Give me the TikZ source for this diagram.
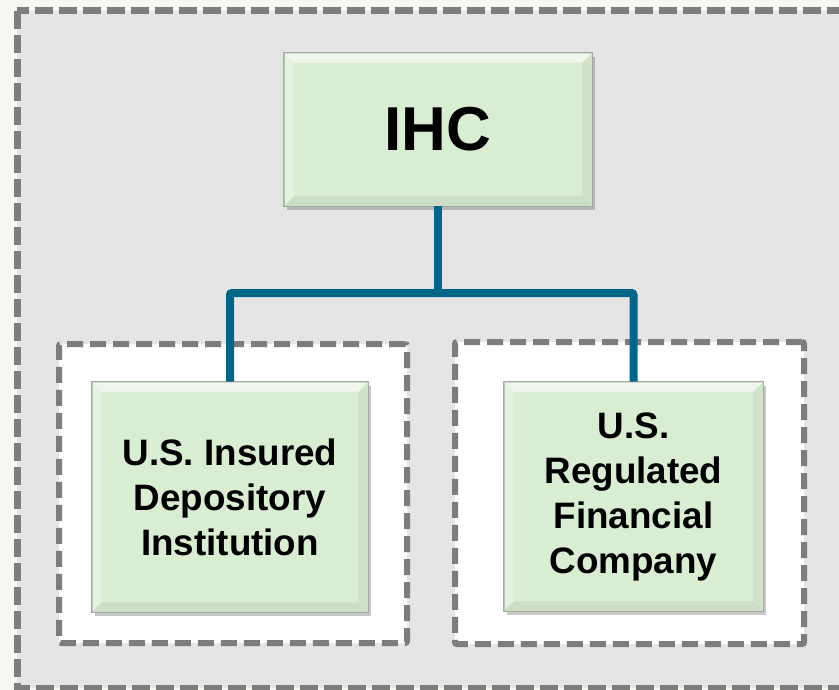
\documentclass[tikz,border=0pt]{standalone}
\usepackage{fontspec}
\setmainfont{Liberation Sans}
\usetikzlibrary{calc,shadows}
\definecolor{pagebg}{RGB}{245,248,240}
\definecolor{panelgray}{RGB}{229,229,229}
\definecolor{dashgray}{RGB}{125,125,125}
\definecolor{boxgreen}{RGB}{217,237,211}
\definecolor{boxedge}{RGB}{160,172,158}
\definecolor{teal}{RGB}{0,102,136}
\tikzset{
  panel/.style={fill=panelgray, draw=dashgray, line width=7pt, dash pattern=on 18pt off 6pt},
  group/.style={fill=white, draw=dashgray, line width=6pt, dash pattern=on 16pt off 7pt, rounded corners=2pt, inner sep=0pt},
  entity/.style={fill=boxgreen, draw=boxedge, line width=0.8pt, inner sep=0pt, align=center,
    font=\bfseries\fontsize{36.8}{45}\selectfont,
    drop shadow={shadow xshift=3pt, shadow yshift=-4pt, opacity=0.3, fill=black!70}},
  conn/.style={draw=teal, line width=8pt, rounded corners=2pt},
}
\begin{document}
\begin{tikzpicture}[x=1pt,y=-1pt]
\useasboundingbox (0,0) rectangle (839,690);
\clip (0,0) rectangle (839,690);
\fill[pagebg] (0,0) rectangle (839,690);
\draw[panel] (17,11) rectangle (870,688);

\node[group, minimum width=348pt, minimum height=299pt] (gl) at (233,493.5) {};
\node[group, minimum width=349pt, minimum height=302pt] (gr) at (629.5,493) {};

\node[entity, minimum width=308pt, minimum height=153pt, font=\bfseries\fontsize{62}{70}\selectfont] (ihc) at (438,129.5) {IHC};
\node[entity, minimum width=276pt, minimum height=230pt] (ins) at (230,497) {U.S. Insured\\Depository\\Institution};
\node[entity, minimum width=259pt, minimum height=229pt] (reg) at (633.5,496.5) {U.S.\\Regulated\\Financial\\Company};

% bevel highlights
\foreach \n in {ihc,ins,reg}{
  \fill[white, opacity=0.6] (\n.north west) -- (\n.north east) -- ($(\n.north east)+(-10,10)$) -- ($(\n.north west)+(10,10)$) -- cycle;
  \fill[white, opacity=0.3] (\n.north west) -- ($(\n.north west)+(10,10)$) -- ($(\n.south west)+(10,-10)$) -- (\n.south west) -- cycle;
  \fill[black, opacity=0.04] (\n.north east) -- ($(\n.north east)+(-10,10)$) -- ($(\n.south east)+(-10,-10)$) -- (\n.south east) -- cycle;
  \fill[black, opacity=0.06] (\n.south west) -- ($(\n.south west)+(10,-10)$) -- ($(\n.south east)+(-10,-10)$) -- (\n.south east) -- cycle;
  \draw[boxedge, line width=0.8pt] (\n.north west) rectangle (\n.south east);
}

\coordinate (bar) at (438,293);
\draw[conn] (ihc.south) -- (bar);
\draw[conn] (ins.north) |- (bar) -| (reg.north);
\end{tikzpicture}
\end{document}
